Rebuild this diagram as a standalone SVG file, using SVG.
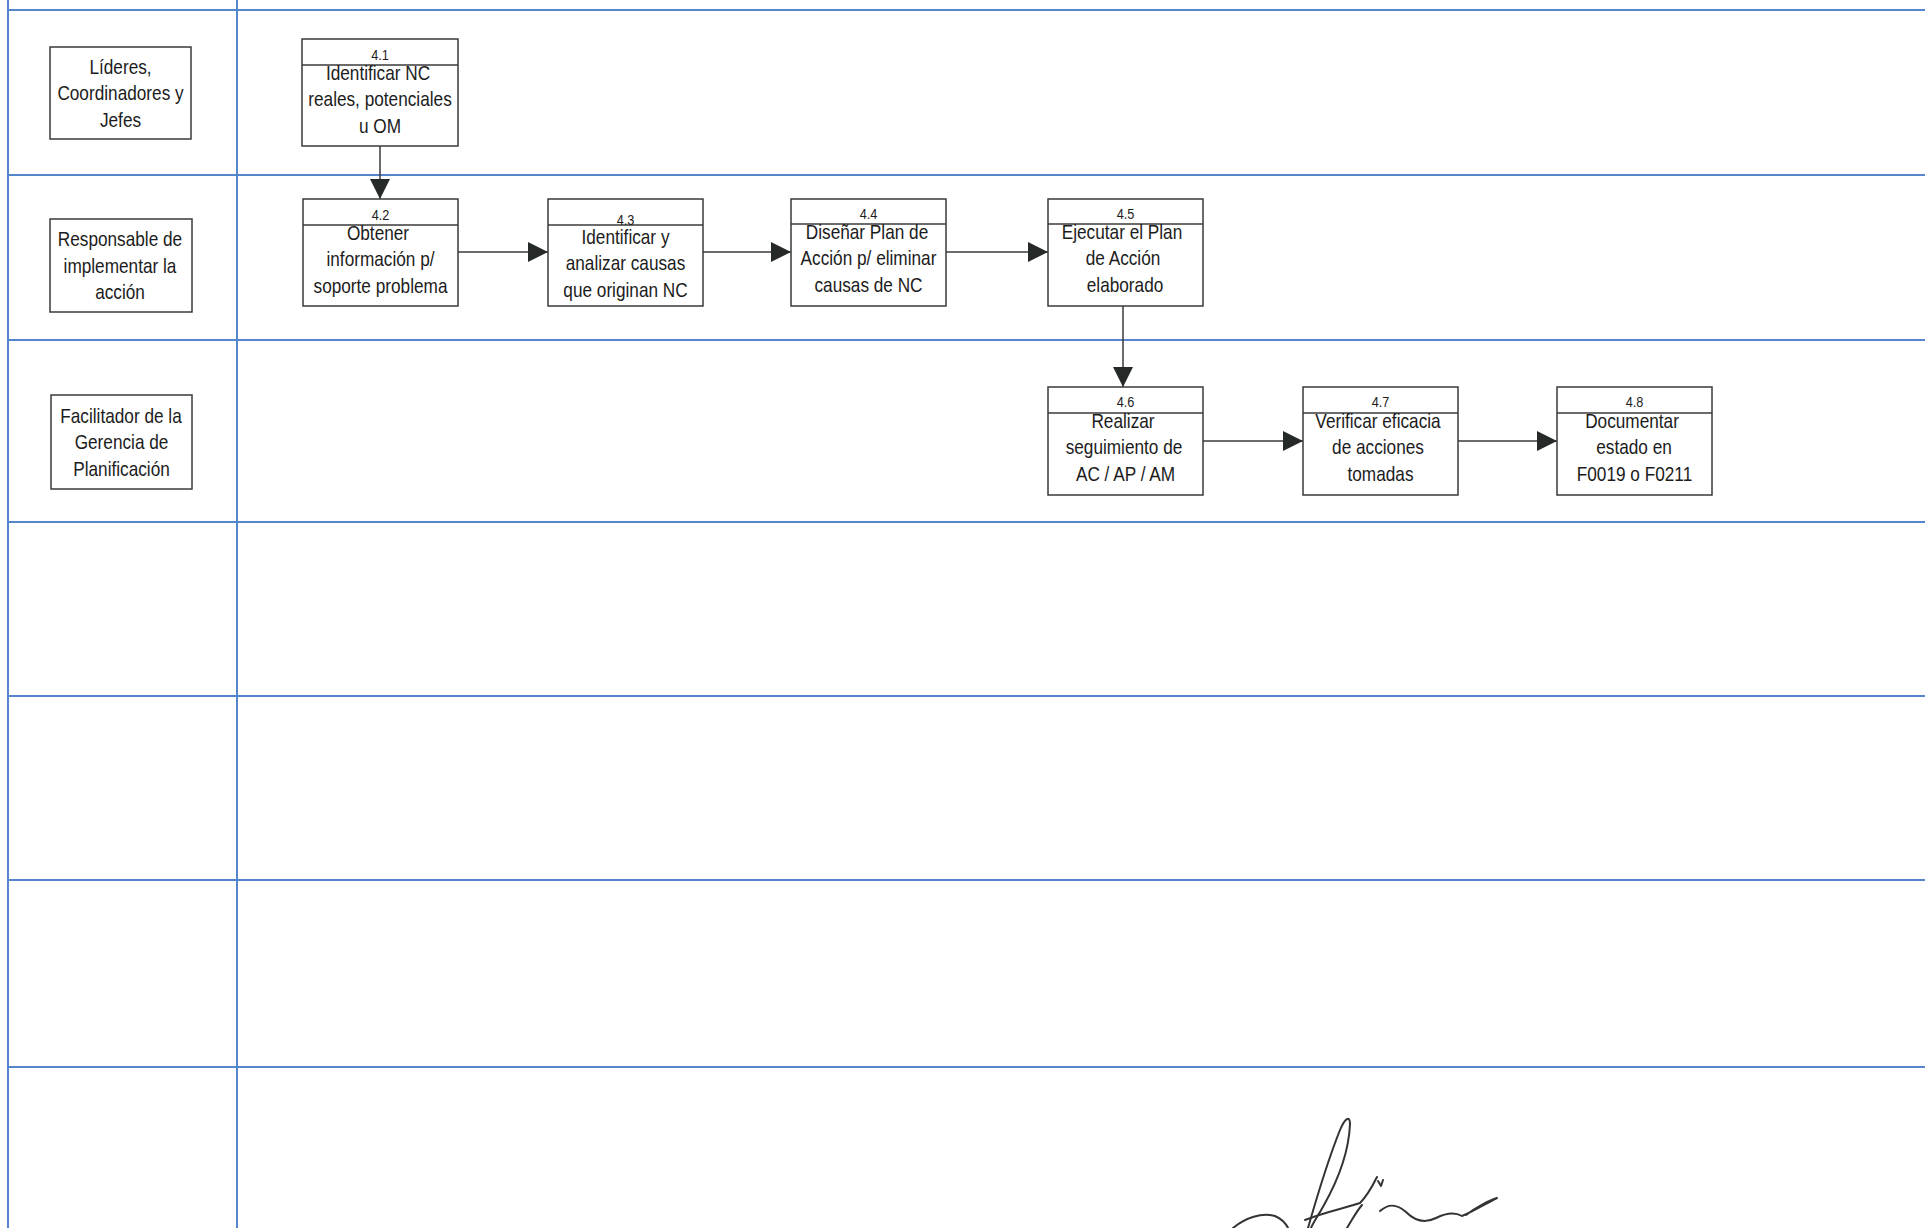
<svg xmlns="http://www.w3.org/2000/svg" width="1925" height="1228" viewBox="0 0 1925 1228">
<style>
.lane{stroke:#5585cc;stroke-width:2;fill:none}
.box{fill:#fff;stroke:#3a3a3a;stroke-width:1.5}
.div{stroke:#3a3a3a;stroke-width:1.5}
.t{font-family:"Liberation Sans",Arial,sans-serif;font-size:21px;fill:#1c1c1c;text-anchor:middle}
.n{font-family:"Liberation Sans",Arial,sans-serif;font-size:15.5px;fill:#1c1c1c;text-anchor:middle}
.c{stroke:#3a3a3a;stroke-width:1.5;fill:none;marker-end:url(#ah)}
.sig{stroke:#333;stroke-width:2;fill:none;stroke-linecap:round;stroke-linejoin:round}
</style>
<defs>
<marker id="ah" markerUnits="userSpaceOnUse" markerWidth="21" markerHeight="21" refX="20" refY="10" orient="auto">
<path d="M0,0 L20,10 L0,20 z" fill="#252a28"/>
</marker>
</defs>
<rect width="1925" height="1228" fill="#fff"/>
<g id="grid">
<line class="lane" x1="8" y1="10" x2="1925" y2="10"/>
<line class="lane" x1="8" y1="175" x2="1925" y2="175"/>
<line class="lane" x1="8" y1="340" x2="1925" y2="340"/>
<line class="lane" x1="8" y1="522" x2="1925" y2="522"/>
<line class="lane" x1="8" y1="696" x2="1925" y2="696"/>
<line class="lane" x1="8" y1="880" x2="1925" y2="880"/>
<line class="lane" x1="8" y1="1067" x2="1925" y2="1067"/>
<line class="lane" x1="8" y1="0" x2="8" y2="1228"/>
<line class="lane" x1="237" y1="0" x2="237" y2="1228"/>
</g>
<g id="lane1">
<rect class="box" x="50" y="47" width="141" height="92"/>
<text class="t" transform="matrix(0.82 0 0 1 120.5 0)" x="0" y="74">Líderes,</text>
<text class="t" transform="matrix(0.82 0 0 1 120.5 0)" x="0" y="100.5">Coordinadores y</text>
<text class="t" transform="matrix(0.82 0 0 1 120.5 0)" x="0" y="127">Jefes</text>
</g>
<g id="lane2">
<rect class="box" x="50" y="219" width="142" height="93"/>
<text class="t" transform="matrix(0.82 0 0 1 120 0)" x="0" y="246.5">Responsable de</text>
<text class="t" transform="matrix(0.82 0 0 1 120 0)" x="0" y="273">implementar la</text>
<text class="t" transform="matrix(0.82 0 0 1 120 0)" x="0" y="299.5">acción</text>
</g>
<g id="lane3">
<rect class="box" x="51" y="395" width="141" height="94"/>
<text class="t" transform="matrix(0.82 0 0 1 121 0)" x="0" y="423">Facilitador de la</text>
<text class="t" transform="matrix(0.82 0 0 1 121.5 0)" x="0" y="449.5">Gerencia de</text>
<text class="t" transform="matrix(0.82 0 0 1 121.5 0)" x="0" y="476">Planificación</text>
</g>
<g id="connectors">
<line class="c" x1="380" y1="146" x2="380" y2="199"/>
<line class="c" x1="458" y1="252" x2="548" y2="252"/>
<line class="c" x1="703" y1="252" x2="791" y2="252"/>
<line class="c" x1="946" y1="252" x2="1048" y2="252"/>
<line class="c" x1="1123" y1="306" x2="1123" y2="387"/>
<line class="c" x1="1203" y1="441" x2="1303" y2="441"/>
<line class="c" x1="1458" y1="441" x2="1557" y2="441"/>
</g>
<g id="n41">
<rect class="box" x="302" y="39" width="156" height="107"/>
<line class="div" x1="302" y1="65" x2="458" y2="65"/>
<text class="n" transform="matrix(0.82 0 0 1 380 0)" x="0" y="60">4.1</text>
<text class="t" transform="matrix(0.82 0 0 1 378 0)" x="0" y="80">Identificar NC</text>
<text class="t" transform="matrix(0.82 0 0 1 380 0)" x="0" y="106.5">reales, potenciales</text>
<text class="t" transform="matrix(0.82 0 0 1 380 0)" x="0" y="133">u OM</text>
</g>
<g id="n42">
<rect class="box" x="303" y="199" width="155" height="107"/>
<line class="div" x1="303" y1="225" x2="458" y2="225"/>
<text class="n" transform="matrix(0.82 0 0 1 380.5 0)" x="0" y="220">4.2</text>
<text class="t" transform="matrix(0.82 0 0 1 378 0)" x="0" y="240">Obtener</text>
<text class="t" transform="matrix(0.82 0 0 1 380.5 0)" x="0" y="266.5">información p/</text>
<text class="t" transform="matrix(0.82 0 0 1 380.5 0)" x="0" y="293">soporte problema</text>
</g>
<g id="n43">
<rect class="box" x="548" y="199" width="155" height="107"/>
<line class="div" x1="548" y1="225" x2="703" y2="225"/>
<text class="n" transform="matrix(0.82 0 0 1 625.5 0)" x="0" y="225">4.3</text>
<text class="t" transform="matrix(0.82 0 0 1 625.5 0)" x="0" y="244">Identificar y</text>
<text class="t" transform="matrix(0.82 0 0 1 625.5 0)" x="0" y="270.5">analizar causas</text>
<text class="t" transform="matrix(0.82 0 0 1 625.5 0)" x="0" y="297">que originan NC</text>
</g>
<g id="n44">
<rect class="box" x="791" y="199" width="155" height="107"/>
<line class="div" x1="791" y1="224" x2="946" y2="224"/>
<text class="n" transform="matrix(0.82 0 0 1 868.5 0)" x="0" y="219">4.4</text>
<text class="t" transform="matrix(0.82 0 0 1 867 0)" x="0" y="239">Diseñar Plan de</text>
<text class="t" transform="matrix(0.82 0 0 1 868.5 0)" x="0" y="265.5">Acción p/ eliminar</text>
<text class="t" transform="matrix(0.82 0 0 1 868.5 0)" x="0" y="292">causas de NC</text>
</g>
<g id="n45">
<rect class="box" x="1048" y="199" width="155" height="107"/>
<line class="div" x1="1048" y1="224" x2="1203" y2="224"/>
<text class="n" transform="matrix(0.82 0 0 1 1125.5 0)" x="0" y="219">4.5</text>
<text class="t" transform="matrix(0.82 0 0 1 1122 0)" x="0" y="239">Ejecutar el Plan</text>
<text class="t" transform="matrix(0.82 0 0 1 1123 0)" x="0" y="265.5">de Acción</text>
<text class="t" transform="matrix(0.82 0 0 1 1125 0)" x="0" y="292">elaborado</text>
</g>
<g id="n46">
<rect class="box" x="1048" y="387" width="155" height="108"/>
<line class="div" x1="1048" y1="413" x2="1203" y2="413"/>
<text class="n" transform="matrix(0.82 0 0 1 1125.5 0)" x="0" y="407">4.6</text>
<text class="t" transform="matrix(0.82 0 0 1 1123 0)" x="0" y="428">Realizar</text>
<text class="t" transform="matrix(0.82 0 0 1 1124 0)" x="0" y="454.5">seguimiento de</text>
<text class="t" transform="matrix(0.82 0 0 1 1125.5 0)" x="0" y="481">AC / AP / AM</text>
</g>
<g id="n47">
<rect class="box" x="1303" y="387" width="155" height="108"/>
<line class="div" x1="1303" y1="413" x2="1458" y2="413"/>
<text class="n" transform="matrix(0.82 0 0 1 1380.5 0)" x="0" y="407">4.7</text>
<text class="t" transform="matrix(0.82 0 0 1 1378 0)" x="0" y="428">Verificar eficacia</text>
<text class="t" transform="matrix(0.82 0 0 1 1378 0)" x="0" y="454.5">de acciones</text>
<text class="t" transform="matrix(0.82 0 0 1 1380.5 0)" x="0" y="481">tomadas</text>
</g>
<g id="n48">
<rect class="box" x="1557" y="387" width="155" height="108"/>
<line class="div" x1="1557" y1="413" x2="1712" y2="413"/>
<text class="n" transform="matrix(0.82 0 0 1 1634.5 0)" x="0" y="407">4.8</text>
<text class="t" transform="matrix(0.82 0 0 1 1632 0)" x="0" y="428">Documentar</text>
<text class="t" transform="matrix(0.82 0 0 1 1634 0)" x="0" y="454.5">estado en</text>
<text class="t" transform="matrix(0.82 0 0 1 1634.5 0)" x="0" y="481">F0019 o F0211</text>
</g>
<g id="signature">
<path class="sig" d="M1233,1228 C1245,1218 1262,1212 1275,1216 C1282,1219 1286,1224 1288,1228"/>
<path class="sig" d="M1308,1228 C1316,1200 1326,1165 1340,1130 C1345,1118 1350,1115 1350,1124 C1349,1150 1338,1180 1324,1205 C1318,1216 1313,1223 1311,1228"/>
<path class="sig" d="M1305,1220 C1325,1212 1345,1208 1360,1203 C1368,1195 1373,1185 1377,1177"/>
<path class="sig" d="M1347,1228 C1352,1220 1356,1212 1362,1205"/>
<path class="sig" d="M1378,1181 L1381,1186 L1383,1180"/>
<path class="sig" d="M1380,1211 C1388,1204 1396,1203 1406,1212 C1414,1220 1424,1224 1436,1218 C1446,1213 1455,1212 1462,1216 C1472,1212 1485,1204 1497,1198 C1490,1200 1475,1208 1466,1215"/>
</g>
</svg>
